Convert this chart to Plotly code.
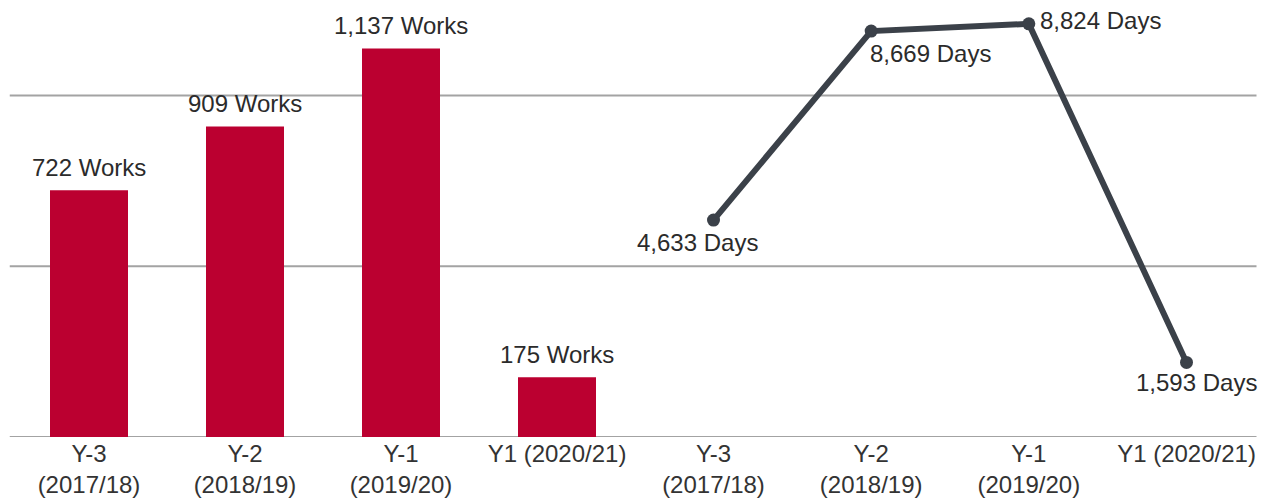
import plotly.graph_objects as go

# Category labels shared by both panels
periods = ["Y-3<br>(2017/18)", "Y-2<br>(2018/19)", "Y-1<br>(2019/20)", "Y1 (2020/21)"]

# Number of works per period (bar panel)
works = [722, 909, 1137, 175]

# Number of days per period (line panel)
days = [4633, 8669, 8824, 1593]

# Horizontal reference lines drawn across both panels (left-axis units)
grid_values = [0, 500, 1000]

BAR_COLOR = "#bb0030"
LINE_COLOR = "#3b4149"
TEXT_COLOR = "#2b2b2b"
FONT = "Liberation Sans, Arial, sans-serif"

fig = go.Figure()

fig.add_trace(go.Bar(
    x=periods, y=works, marker=dict(color=BAR_COLOR, line=dict(width=0)),
    xaxis="x", yaxis="y", hoverinfo="skip", showlegend=False,
))

fig.add_trace(go.Scatter(
    x=periods, y=days, mode="lines+markers",
    line=dict(color=LINE_COLOR, width=6),
    marker=dict(color=LINE_COLOR, size=13),
    xaxis="x2", yaxis="y2", hoverinfo="skip", showlegend=False,
))

# Value labels above each bar
for p, v in zip(periods, works):
    fig.add_annotation(
        x=p, y=v, xref="x", yref="y", text=f"{v:,} Works", showarrow=False,
        xanchor="center", yanchor="middle", yshift=23,
        font=dict(family=FONT, size=24, color=TEXT_COLOR),
    )

# Value labels next to each line point: (xanchor, xshift, yshift)
day_label_pos = [("center", -16, -22), ("left", -3, -22), ("left", 9, 3), ("center", 10, -20)]
for p, v, (xa, xs, ys) in zip(periods, days, day_label_pos):
    fig.add_annotation(
        x=p, y=v, xref="x2", yref="y2", text=f"{v:,} Days", showarrow=False,
        xanchor=xa, yanchor="middle", xshift=xs, yshift=ys,
        font=dict(family=FONT, size=24, color=TEXT_COLOR),
    )

# Gridlines spanning the full width
for g in grid_values:
    fig.add_shape(
        type="line", xref="paper", yref="y", x0=-0.001, x1=0.998, y0=g, y1=g,
        line=dict(color="#a3a3a3", width=2), layer="below",
    )

axis_common = dict(
    showgrid=False, zeroline=False, showline=False, ticks="",
    automargin=False, ticklabelstandoff=0,
    tickfont=dict(family=FONT, size=24, color="#333333"),
)

fig.update_layout(
    width=1266, height=500,
    margin=dict(l=11, r=7, t=10, b=63),
    paper_bgcolor="white", plot_bgcolor="white",
    bargap=0.5,
    xaxis=dict(domain=[0, 0.5], **axis_common),
    xaxis2=dict(domain=[0.5, 1], anchor="y2", **axis_common),
    yaxis=dict(range=[0, 1250], showticklabels=False, showgrid=False,
               zeroline=False, showline=False, automargin=False),
    yaxis2=dict(range=[0, 9120], anchor="x2", showticklabels=False,
                showgrid=False, zeroline=False, showline=False, automargin=False),
    font=dict(family=FONT, color=TEXT_COLOR),
)

fig.write_html("out.html")
